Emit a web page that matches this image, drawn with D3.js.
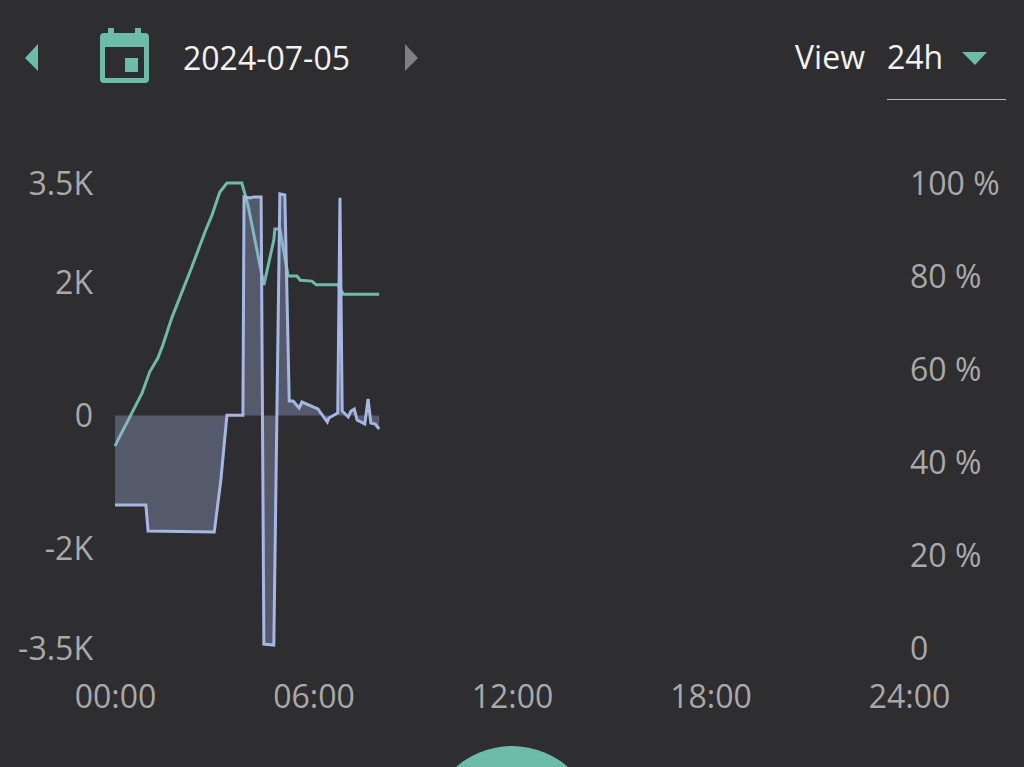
<!DOCTYPE html>
<html>
<head>
<meta charset="utf-8">
<script src="https://cdn.jsdelivr.net/npm/d3@7"></script>
<style>
  html, body { margin: 0; padding: 0; background: #2e2e30; overflow: hidden; }
  svg { display: block; font-family: "Open Sans", sans-serif; }
  .axis text { fill: #a9a9a9; font-size: 32px; font-family: "Open Sans", sans-serif; }
  .head { fill: #f2f2f2; font-size: 32px; }
</style>
</head>
<body>
<div id="chart"></div>
<script>
// minutes since midnight, battery %
const socMinutes = [0, 9, 24, 36, 49, 63, 78, 87, 103, 118, 136, 151, 163, 176, 190, 203, 230, 236, 241, 270, 288, 290, 299, 314, 330, 336, 357, 365, 404, 414, 479];
const socValues = [43.4, 45.6, 49, 51.8, 54.8, 59.4, 62.4, 65.2, 71, 75.5, 80.9, 85.6, 89.4, 93.1, 98, 100, 100, 97.5, 95.3, 78.1, 87.7, 90.1, 90.1, 80, 80, 79.1, 78.9, 78.1, 78.1, 76.1, 76.1];

// minutes since midnight, power in W
const powerMinutes = [0, 56, 60, 180, 192, 203, 232, 234, 245, 252, 265, 270, 288, 299, 308, 316, 323, 334, 339, 368, 385, 388, 404, 408, 412, 423, 428, 434, 439, 453, 459, 464, 472, 479];
const powerValues = [-1348, -1348, -1739, -1755, -971, 4, 4, 3291, 3276, 3291, 3291, -3441, -3456, 3336, 3321, 218, 218, 113, 203, 98, -98, -38, 38, 3276, 68, -23, 68, 98, -68, -128, 248, -113, -128, -203];

const powerTicks = [-3500, -2000, 0, 2000, 3500];
const powerTickLabels = ["-3.5K", "-2K", "0", "2K", "3.5K"];
const socTicks = [0, 20, 40, 60, 80, 100];
const socTickLabels = ["0", "20 %", "40 %", "60 %", "80 %", "100 %"];
const timeTicks = [0, 360, 720, 1080, 1440];
const timeTickLabels = ["00:00", "06:00", "12:00", "18:00", "24:00"];
const dateLabel = "2024-07-05";

const green = "#6dbcaa";
const blue = "#a6b7e5";

const svg = d3.select("#chart").append("svg").attr("width", 1024).attr("height", 767);

const x = d3.scaleLinear().domain([0, 1440]).range([115, 909]);
const yPower = d3.scaleLinear().domain([-3500, 3500]).range([648, 183]);
const ySoc = d3.scaleLinear().domain([0, 100]).range([648, 183]);

const soc = socMinutes.map((m, i) => ({ m: m, v: socValues[i] }));
const power = powerMinutes.map((m, i) => ({ m: m, v: powerValues[i] }));

// axes, no lines, only labels
svg.append("g").attr("class", "axis")
  .attr("transform", "translate(93,1)")
  .call(d3.axisLeft(yPower).tickValues(powerTicks).tickSize(0).tickPadding(0)
    .tickFormat((d, i) => powerTickLabels[i]))
  .call(g => g.select(".domain").remove());

svg.append("g").attr("class", "axis")
  .attr("transform", "translate(910,1)")
  .call(d3.axisRight(ySoc).tickValues(socTicks).tickSize(0).tickPadding(0)
    .tickFormat((d, i) => socTickLabels[i]))
  .call(g => g.select(".domain").remove());

svg.append("g").attr("class", "axis")
  .attr("transform", "translate(0,685)")
  .call(d3.axisBottom(x).tickValues(timeTicks).tickSize(0).tickPadding(0)
    .tickFormat((d, i) => timeTickLabels[i]))
  .call(g => g.select(".domain").remove());

// series
svg.append("path").datum(soc)
  .attr("fill", "none").attr("stroke", green).attr("stroke-width", 3)
  .attr("d", d3.line().x(d => x(d.m)).y(d => ySoc(d.v)));

svg.append("path").datum(power)
  .attr("fill", blue).attr("fill-opacity", 0.33)
  .attr("d", d3.area().x(d => x(d.m)).y0(yPower(0)).y1(d => yPower(d.v)));

svg.append("path").datum(power)
  .attr("fill", "none").attr("stroke", blue).attr("stroke-width", 3)
  .attr("d", d3.line().x(d => x(d.m)).y(d => yPower(d.v)));

// header
const icons = svg.append("g");
icons.append("path").attr("fill", green).attr("d", "M25,58 L38,44 L38,71 Z");
icons.append("path").attr("fill", "#808080").attr("d", "M418,58 L405,44 L405,71 Z");
icons.append("path").attr("fill", green).attr("d", "M962,52 L987,52 L975,65 Z");

const cal = svg.append("g");
cal.append("rect").attr("x", 100).attr("y", 33).attr("width", 49).attr("height", 50).attr("rx", 4).attr("fill", green);
cal.append("rect").attr("x", 108).attr("y", 28).attr("width", 6).attr("height", 6).attr("fill", green);
cal.append("rect").attr("x", 135).attr("y", 28).attr("width", 6).attr("height", 6).attr("fill", green);
cal.append("rect").attr("x", 105).attr("y", 47).attr("width", 39).attr("height", 31).attr("fill", "#2e2e30");
cal.append("rect").attr("x", 125).attr("y", 58).attr("width", 13).attr("height", 14).attr("fill", green);

svg.append("text").attr("class", "head").attr("x", 183).attr("y", 70).text(dateLabel);
svg.append("text").attr("class", "head").attr("x", 795).attr("y", 69).text("View");
svg.append("text").attr("class", "head").attr("x", 887).attr("y", 69).text("24h");
svg.append("line").attr("x1", 887).attr("x2", 1006).attr("y1", 99.5).attr("y2", 99.5)
  .attr("stroke", "#b8b8b8").attr("stroke-width", 1);

// round button cut off at the bottom
svg.append("circle").attr("cx", 512).attr("cy", 831).attr("r", 85).attr("fill", green);
</script>
</body>
</html>
